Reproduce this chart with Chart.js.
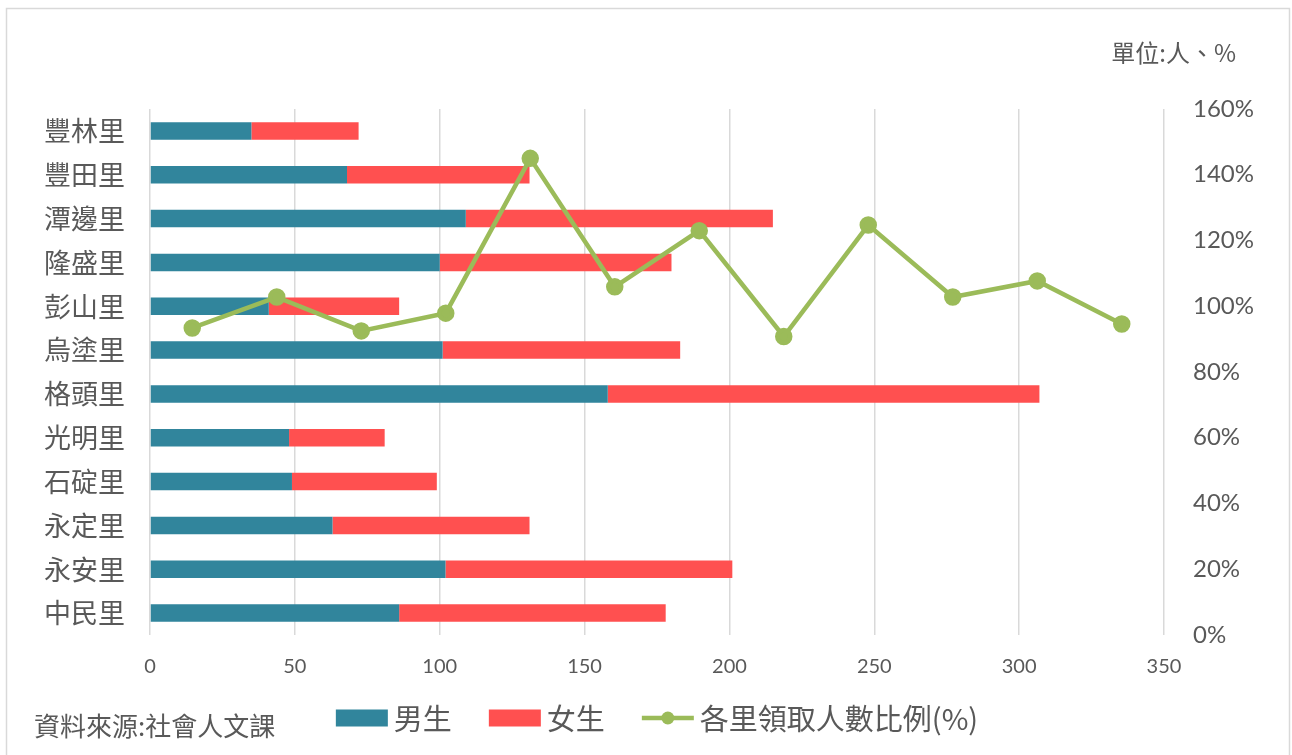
<!DOCTYPE html>
<html>
<head>
<meta charset="utf-8">
<script src="https://cdn.jsdelivr.net/npm/chart.js@4"></script>
<style>
  html, body { margin: 0; padding: 0; background: #fff; }
  canvas { display: block; }
</style>
</head>
<body>
<canvas id="villageChart" width="1292" height="755"></canvas>
<script>
// data, bottom row first (same order as the sheet)
const villages = ["中民里", "永安里", "永定里", "石碇里", "光明里", "格頭里",
                  "烏塗里", "彭山里", "隆盛里", "潭邊里", "豐田里", "豐林里"];
const male   = [86, 102, 63, 49, 48, 158, 101, 41, 100, 109, 68, 35];
const female = [92, 99, 68, 50, 33, 149, 82, 45, 80, 106, 63, 37];
const ratio  = [93.4, 102.8, 92.5, 97.9, 145.0, 105.9, 123.0, 90.8, 124.7, 102.8, 107.7, 94.6];

const countTicks = [0, 50, 100, 150, 200, 250, 300, 350];
const percentTicks = [0, 20, 40, 60, 80, 100, 120, 140, 160];

const FONT = 'Lato, "Noto Sans CJK TC", sans-serif';
const CJK = '"Noto Sans CJK TC", sans-serif';
const TEXT = "#595959";
const GRID = "#D9D9D9";

// frame, legend and the two notes
const decorations = {
  id: "decorations",
  beforeDraw(chart) {
    const ctx = chart.ctx;
    ctx.save();
    ctx.fillStyle = "#fff";
    ctx.fillRect(0, 0, chart.width, chart.height);
    ctx.strokeStyle = GRID;
    ctx.lineWidth = 1.5;
    ctx.strokeRect(6.5, 8.5, 1283, 760);
    ctx.restore();
  },
  afterDraw(chart) {
    const ctx = chart.ctx;
    const area = chart.chartArea;
    ctx.save();
    ctx.fillStyle = TEXT;
    ctx.textBaseline = "middle";

    ctx.font = "24px " + CJK;
    ctx.textAlign = "right";
    ctx.fillText("單位:人、%", 1236, 53);

    ctx.font = "26px " + CJK;
    ctx.textAlign = "left";
    ctx.fillText("資料來源:社會人文課", 34, 726);

    // legend
    ctx.font = "29px " + CJK;
    const boxW = 52, boxH = 17, gap = 6, spacing = 37;
    const sets = chart.data.datasets;
    const widths = sets.map(d => boxW + gap + ctx.measureText(d.label).width);
    const total = widths.reduce((a, b) => a + b, 0) + spacing * (sets.length - 1);
    let x = (area.left + area.right) / 2 - total / 2;
    const y = 718;
    sets.forEach((d, i) => {
      if (d.type === "line") {
        ctx.strokeStyle = d.borderColor;
        ctx.lineWidth = d.borderWidth;
        ctx.beginPath();
        ctx.moveTo(x, y);
        ctx.lineTo(x + boxW, y);
        ctx.stroke();
        ctx.fillStyle = d.pointBackgroundColor;
        ctx.beginPath();
        ctx.arc(x + boxW / 2, y, d.pointRadius, 0, Math.PI * 2);
        ctx.fill();
      } else {
        ctx.fillStyle = d.backgroundColor;
        ctx.fillRect(x, y - boxH / 2, boxW, boxH);
      }
      ctx.fillStyle = TEXT;
      ctx.fillText(d.label, x + boxW + gap, y + 1);
      x += widths[i] + spacing;
    });
    ctx.restore();
  }
};

const ctx = document.getElementById("villageChart").getContext("2d");
new Chart(ctx, {
  type: "bar",
  data: {
    labels: villages,
    datasets: [
      {
        label: "男生",
        data: male,
        indexAxis: "y",
        xAxisID: "x",
        yAxisID: "y",
        backgroundColor: "#31859C",
        grouped: false,
        barPercentage: 0.4,
        categoryPercentage: 1,
        order: 2
      },
      {
        label: "女生",
        data: female,
        indexAxis: "y",
        xAxisID: "x",
        yAxisID: "y",
        backgroundColor: "#FF5050",
        grouped: false,
        barPercentage: 0.4,
        categoryPercentage: 1,
        order: 2
      },
      {
        type: "line",
        label: "各里領取人數比例(%)",
        data: ratio,
        indexAxis: "x",
        xAxisID: "x2",
        yAxisID: "y2",
        borderColor: "#9BBB59",
        backgroundColor: "#9BBB59",
        pointBackgroundColor: "#9BBB59",
        pointBorderColor: "#9BBB59",
        borderWidth: 4.5,
        pointRadius: 6.5,
        pointHoverRadius: 6.5,
        tension: 0,
        fill: false,
        order: 1
      }
    ]
  },
  options: {
    responsive: false,
    animation: false,
    devicePixelRatio: 1,
    layout: { padding: { top: 109, left: 0, right: 0, bottom: 0 } },
    plugins: {
      legend: { display: false },
      tooltip: { enabled: false }
    },
    scales: {
      x: {
        axis: "x",
        type: "linear",
        position: "bottom",
        stacked: true,
        offset: false,
        min: 0,
        max: 350,
        afterBuildTicks: s => { s.ticks = countTicks.map(v => ({ value: v })); },
        grid: { color: GRID, lineWidth: 1.5, drawTicks: false, offset: false },
        border: { display: false },
        ticks: { color: TEXT, font: { family: FONT, size: 20 }, padding: 20 },
        afterFit: s => { s.height = 120; }
      },
      y: {
        axis: "y",
        type: "category",
        position: "left",
        stacked: true,
        reverse: true,
        offset: true,
        grid: { display: false, drawTicks: false },
        border: { display: false },
        ticks: { color: TEXT, font: { family: CJK, size: 27 }, padding: 25 },
        afterFit: s => { s.width = 150; }
      },
      x2: {
        axis: "x",
        type: "category",
        position: "top",
        display: false,
        offset: true
      },
      y2: {
        axis: "y",
        type: "linear",
        position: "right",
        min: 0,
        max: 160,
        afterBuildTicks: s => { s.ticks = percentTicks.map(v => ({ value: v })); },
        grid: { display: false, drawTicks: false },
        border: { display: false },
        ticks: {
          color: TEXT,
          font: { family: FONT, size: 24 },
          padding: 29,
          callback: v => v + "%"
        },
        afterFit: s => { s.width = 1292 - 1164; }
      }
    }
  },
  plugins: [decorations]
});
</script>
</body>
</html>
